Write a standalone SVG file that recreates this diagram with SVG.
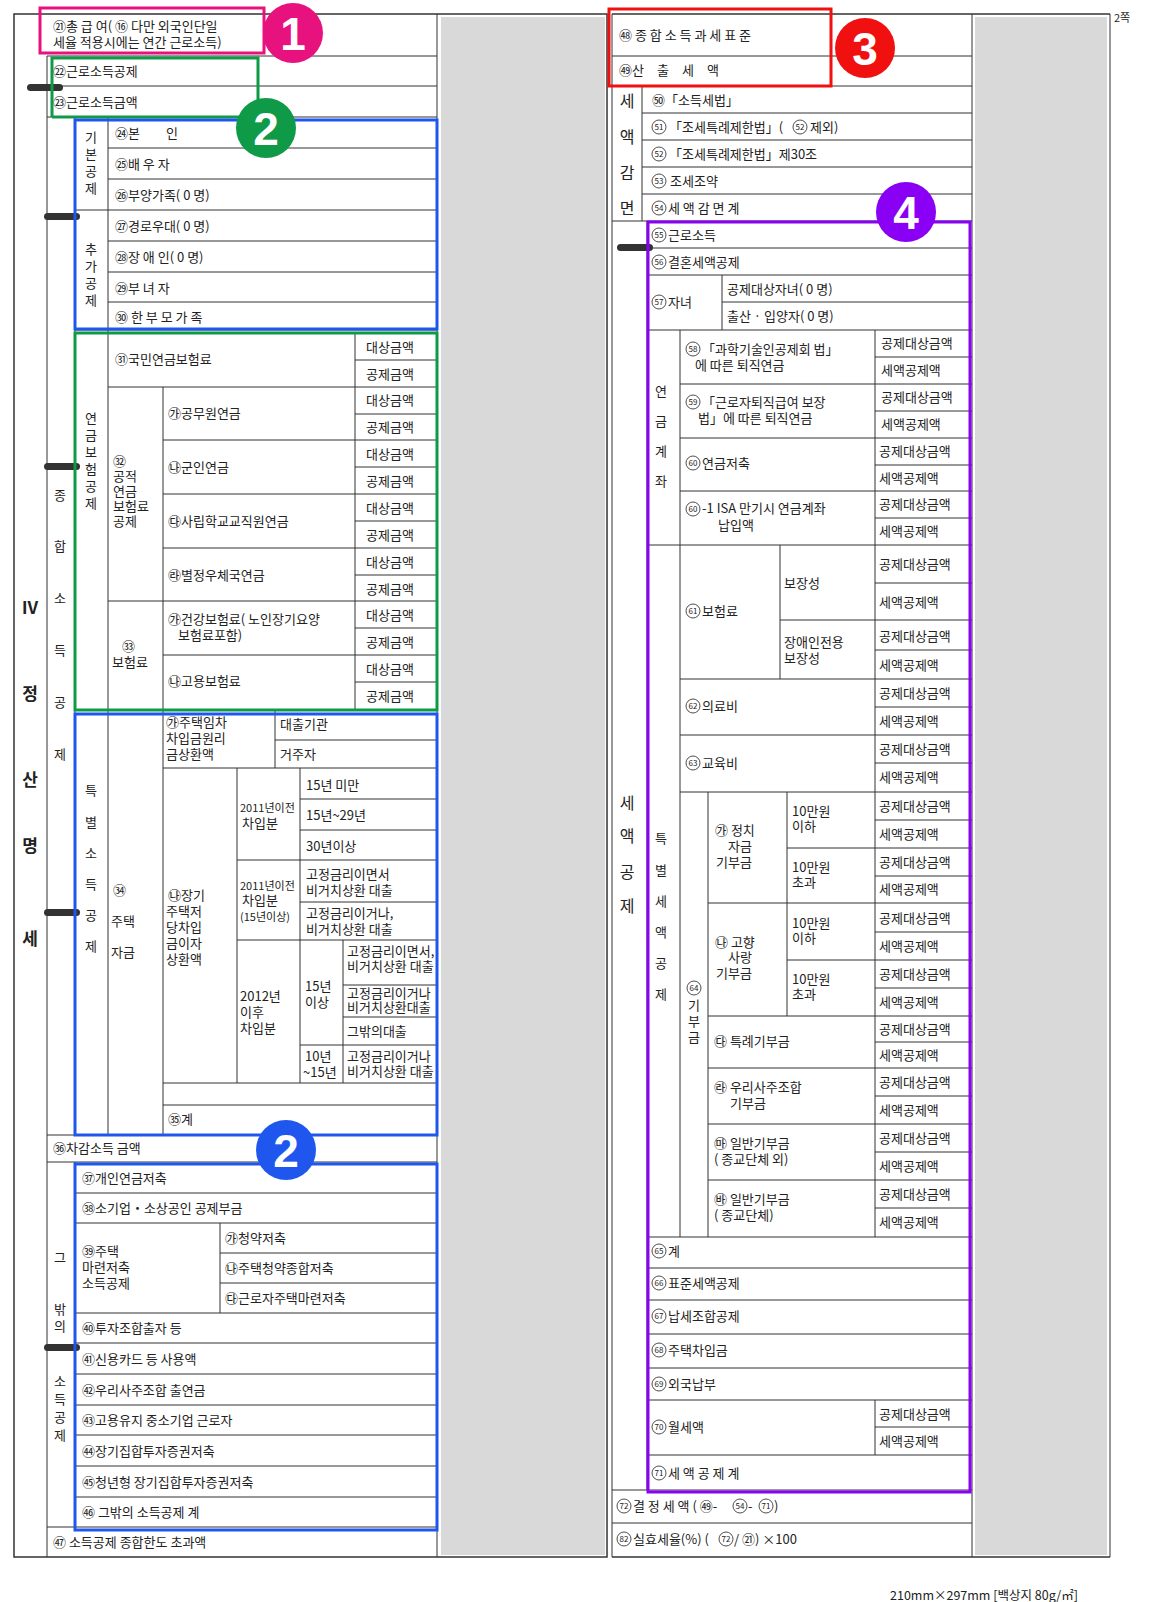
<svg xmlns="http://www.w3.org/2000/svg" width="1151" height="1602" viewBox="0 0 1151 1602">
<style>
text{font-family:"Noto Sans CJK KR","Noto Sans",sans-serif;font-size:13px;fill:#222}
.s{font-size:12.5px}
.xs{font-size:11px}
.b{font-size:17px;font-weight:bold}
.cn{font-size:8px;text-anchor:middle}
.cc{fill:none;stroke:#222;stroke-width:0.8}
.l line{stroke:#333;stroke-width:1}
.g{fill:#d9d9d9}
.fm{fill:#333}
.big{font-family:"Liberation Sans",sans-serif;font-size:46px;font-weight:bold;fill:#fff;text-anchor:middle}
</style>
<rect width="1151" height="1602" fill="#fff"/>
<rect class="g" x="441" y="17" width="164" height="1538"/>
<rect class="g" x="975" y="17" width="132" height="1538"/>
<g class="l" id="grid-left">
<rect x="14" y="14" width="593" height="1543" fill="none" stroke="#333" stroke-width="1.5"/>
<line x1="437" y1="14" x2="437" y2="1557"/>
<line x1="47" y1="56" x2="47" y2="1557"/>
<line x1="47" y1="56" x2="437" y2="56"/><line x1="47" y1="86" x2="437" y2="86"/><line x1="47" y1="117" x2="437" y2="117"/>
<line x1="75" y1="117" x2="75" y2="1135"/><line x1="75" y1="1162" x2="75" y2="1527"/>
<line x1="108" y1="117" x2="108" y2="1135"/>
<line x1="108" y1="148" x2="437" y2="148"/><line x1="108" y1="179" x2="437" y2="179"/><line x1="75" y1="210" x2="437" y2="210"/>
<line x1="108" y1="241" x2="437" y2="241"/><line x1="108" y1="272" x2="437" y2="272"/><line x1="108" y1="302" x2="437" y2="302"/><line x1="75" y1="330" x2="437" y2="330"/>
<line x1="163" y1="387" x2="163" y2="710"/><line x1="355" y1="333" x2="355" y2="710"/>
<line x1="355" y1="360" x2="437" y2="360"/><line x1="108" y1="387" x2="437" y2="387"/><line x1="355" y1="414" x2="437" y2="414"/><line x1="163" y1="440" x2="437" y2="440"/>
<line x1="355" y1="467" x2="437" y2="467"/><line x1="163" y1="494" x2="437" y2="494"/><line x1="355" y1="521" x2="437" y2="521"/><line x1="163" y1="548" x2="437" y2="548"/>
<line x1="355" y1="575" x2="437" y2="575"/><line x1="108" y1="601" x2="437" y2="601"/><line x1="355" y1="628" x2="437" y2="628"/><line x1="163" y1="655" x2="437" y2="655"/>
<line x1="355" y1="682" x2="437" y2="682"/><line x1="75" y1="710" x2="437" y2="710"/>
<line x1="163" y1="710" x2="163" y2="1135"/><line x1="275" y1="710" x2="275" y2="768"/><line x1="275" y1="740" x2="437" y2="740"/><line x1="163" y1="768" x2="437" y2="768"/>
<line x1="237" y1="768" x2="237" y2="1083"/><line x1="300" y1="768" x2="300" y2="1083"/>
<line x1="300" y1="799" x2="437" y2="799"/><line x1="300" y1="830" x2="437" y2="830"/><line x1="237" y1="860" x2="437" y2="860"/><line x1="300" y1="902" x2="437" y2="902"/><line x1="237" y1="940" x2="437" y2="940"/>
<line x1="343" y1="940" x2="343" y2="1083"/><line x1="343" y1="985" x2="437" y2="985"/><line x1="343" y1="1017" x2="437" y2="1017"/><line x1="300" y1="1045" x2="437" y2="1045"/>
<line x1="163" y1="1083" x2="437" y2="1083"/><line x1="163" y1="1105" x2="437" y2="1105"/><line x1="47" y1="1135" x2="437" y2="1135"/><line x1="47" y1="1162" x2="437" y2="1162"/>
<line x1="75" y1="1193" x2="437" y2="1193"/><line x1="75" y1="1223" x2="437" y2="1223"/><line x1="220" y1="1223" x2="220" y2="1313"/><line x1="220" y1="1253" x2="437" y2="1253"/><line x1="220" y1="1283" x2="437" y2="1283"/>
<line x1="75" y1="1313" x2="437" y2="1313"/><line x1="75" y1="1343" x2="437" y2="1343"/><line x1="75" y1="1374" x2="437" y2="1374"/><line x1="75" y1="1405" x2="437" y2="1405"/><line x1="75" y1="1435" x2="437" y2="1435"/>
<line x1="75" y1="1466" x2="437" y2="1466"/><line x1="75" y1="1497" x2="437" y2="1497"/><line x1="47" y1="1527" x2="437" y2="1527"/>
</g>
<g class="l" id="grid-right">
<line x1="612" y1="14" x2="1110" y2="14" style="stroke-width:1.5"/><line x1="612" y1="1557" x2="1110" y2="1557" style="stroke-width:1.5"/>
<line x1="612" y1="14" x2="612" y2="1557"/><line x1="1110" y1="14" x2="1110" y2="1557"/><line x1="972" y1="14" x2="972" y2="1557"/>
<line x1="612" y1="56" x2="972" y2="56"/><line x1="612" y1="86" x2="972" y2="86"/><line x1="642" y1="86" x2="642" y2="221"/>
<line x1="642" y1="113" x2="972" y2="113"/><line x1="642" y1="140" x2="972" y2="140"/><line x1="642" y1="167" x2="972" y2="167"/><line x1="642" y1="194" x2="972" y2="194"/><line x1="612" y1="221" x2="972" y2="221"/>
<line x1="647" y1="221" x2="647" y2="1490"/><line x1="647" y1="248" x2="972" y2="248"/><line x1="647" y1="275" x2="972" y2="275"/>
<line x1="722" y1="275" x2="722" y2="330"/><line x1="722" y1="302" x2="972" y2="302"/><line x1="647" y1="330" x2="972" y2="330"/>
<line x1="680" y1="330" x2="680" y2="1237"/><line x1="875" y1="330" x2="875" y2="1237"/><line x1="875" y1="1400" x2="875" y2="1455"/>
<line x1="875" y1="357" x2="972" y2="357"/><line x1="680" y1="384" x2="972" y2="384"/><line x1="875" y1="411" x2="972" y2="411"/><line x1="680" y1="438" x2="972" y2="438"/>
<line x1="875" y1="465" x2="972" y2="465"/><line x1="680" y1="491" x2="972" y2="491"/><line x1="875" y1="518" x2="972" y2="518"/><line x1="647" y1="545" x2="972" y2="545"/>
<line x1="780" y1="545" x2="780" y2="679"/><line x1="875" y1="583" x2="972" y2="583"/><line x1="780" y1="620" x2="972" y2="620"/><line x1="875" y1="650" x2="972" y2="650"/>
<line x1="680" y1="679" x2="972" y2="679"/><line x1="875" y1="707" x2="972" y2="707"/><line x1="680" y1="735" x2="972" y2="735"/><line x1="875" y1="763" x2="972" y2="763"/><line x1="680" y1="792" x2="972" y2="792"/>
<line x1="708" y1="792" x2="708" y2="1237"/><line x1="787" y1="792" x2="787" y2="1016"/>
<line x1="875" y1="820" x2="972" y2="820"/><line x1="787" y1="848" x2="972" y2="848"/><line x1="875" y1="876" x2="972" y2="876"/><line x1="708" y1="903" x2="972" y2="903"/>
<line x1="875" y1="932" x2="972" y2="932"/><line x1="787" y1="960" x2="972" y2="960"/><line x1="875" y1="988" x2="972" y2="988"/><line x1="708" y1="1016" x2="972" y2="1016"/>
<line x1="875" y1="1042" x2="972" y2="1042"/><line x1="708" y1="1068" x2="972" y2="1068"/><line x1="875" y1="1096" x2="972" y2="1096"/><line x1="708" y1="1124" x2="972" y2="1124"/>
<line x1="875" y1="1152" x2="972" y2="1152"/><line x1="708" y1="1180" x2="972" y2="1180"/><line x1="875" y1="1208" x2="972" y2="1208"/><line x1="647" y1="1237" x2="972" y2="1237"/>
<line x1="647" y1="1268" x2="972" y2="1268"/><line x1="647" y1="1300" x2="972" y2="1300"/><line x1="647" y1="1334" x2="972" y2="1334"/><line x1="647" y1="1368" x2="972" y2="1368"/>
<line x1="647" y1="1400" x2="972" y2="1400"/><line x1="875" y1="1427" x2="972" y2="1427"/><line x1="647" y1="1455" x2="972" y2="1455"/><line x1="612" y1="1490" x2="972" y2="1490"/><line x1="612" y1="1523" x2="972" y2="1523"/>
</g>
<g id="fold-marks">
<rect class="fm" x="27" y="84" width="36" height="7" rx="3.5"/>
<rect class="fm" x="44" y="213" width="36" height="7" rx="3.5"/>
<rect class="fm" x="44" y="463" width="36" height="7" rx="3.5"/>
<rect class="fm" x="44" y="909" width="36" height="7" rx="3.5"/>
<rect class="fm" x="44" y="1344" width="36" height="7" rx="3.5"/>
<rect class="fm" x="617" y="244" width="36" height="7" rx="3.5"/>
</g>
<g id="left-text">
<text x="53" y="31">㉑총 급 여( ⑯ 다만 외국인단일</text><text x="53" y="47">세율 적용시에는 연간 근로소득)</text>
<text x="53" y="76">㉒근로소득공제</text><text x="53" y="107">㉓근로소득금액</text>
<text x="30" y="614" class="b" text-anchor="middle">Ⅳ</text>
<text x="30" y="700" class="b" text-anchor="middle">정</text><text x="30" y="786" class="b" text-anchor="middle">산</text><text x="30" y="852" class="b" text-anchor="middle">명</text><text x="30" y="945" class="b" text-anchor="middle">세</text>
<text x="60" y="500" text-anchor="middle">종</text><text x="60" y="551" text-anchor="middle">합</text><text x="60" y="603" text-anchor="middle">소</text><text x="60" y="655" text-anchor="middle">득</text><text x="60" y="707" text-anchor="middle">공</text><text x="60" y="759" text-anchor="middle">제</text>
<text x="91" y="142" text-anchor="middle">기</text><text x="91" y="159" text-anchor="middle">본</text><text x="91" y="176" text-anchor="middle">공</text><text x="91" y="193" text-anchor="middle">제</text>
<text x="91" y="254" text-anchor="middle">추</text><text x="91" y="271" text-anchor="middle">가</text><text x="91" y="288" text-anchor="middle">공</text><text x="91" y="305" text-anchor="middle">제</text>
<text x="115" y="138">㉔본　　인</text><text x="115" y="169">㉕배 우 자</text><text x="115" y="200">㉖부양가족( 0 명)</text><text x="115" y="231">㉗경로우대( 0 명)</text>
<text x="115" y="262">㉘장 애 인( 0 명)</text><text x="115" y="293">㉙부 녀 자</text><text x="115" y="322">㉚ 한 부 모 가 족</text>
<text x="91" y="423" text-anchor="middle">연</text><text x="91" y="440" text-anchor="middle">금</text><text x="91" y="457" text-anchor="middle">보</text><text x="91" y="474" text-anchor="middle">험</text><text x="91" y="491" text-anchor="middle">공</text><text x="91" y="508" text-anchor="middle">제</text>
<text x="115" y="364">㉛국민연금보험료</text>
<g class="s"><text x="113" y="466">㉜</text><text x="113" y="481">공적</text><text x="113" y="496">연금</text><text x="113" y="511">보험료</text><text x="113" y="526">공제</text></g>
<text x="168" y="418">㉮공무원연금</text><text x="168" y="472">㉯군인연금</text><text x="168" y="526">㉰사립학교교직원연금</text><text x="168" y="580">㉱별정우체국연금</text>
<text x="122" y="651">㉝</text><text x="112" y="667">보험료</text>
<text x="168" y="624">㉮건강보험료( 노인장기요양</text><text x="178" y="640">보험료포함)</text><text x="168" y="686">㉯고용보험료</text>
<g class="s">
<text x="366" y="352">대상금액</text><text x="366" y="379">공제금액</text><text x="366" y="405">대상금액</text><text x="366" y="432">공제금액</text>
<text x="366" y="459">대상금액</text><text x="366" y="486">공제금액</text><text x="366" y="513">대상금액</text><text x="366" y="540">공제금액</text>
<text x="366" y="567">대상금액</text><text x="366" y="594">공제금액</text><text x="366" y="620">대상금액</text><text x="366" y="647">공제금액</text>
<text x="366" y="674">대상금액</text><text x="366" y="701">공제금액</text>
</g>
<text x="91" y="795" text-anchor="middle">특</text><text x="91" y="827" text-anchor="middle">별</text><text x="91" y="858" text-anchor="middle">소</text><text x="91" y="889" text-anchor="middle">득</text><text x="91" y="920" text-anchor="middle">공</text><text x="91" y="951" text-anchor="middle">제</text>
<text x="113" y="895">㉞</text><text x="111" y="926">주택</text><text x="111" y="957">자금</text>
<text x="166" y="727">㉮주택임차</text><text x="166" y="743">차입금원리</text><text x="166" y="759">금상환액</text>
<text x="280" y="729">대출기관</text><text x="280" y="759">거주자</text>
<text x="168" y="900">㉯장기</text><text x="166" y="916">주택저</text><text x="166" y="932">당차입</text><text x="166" y="948">금이자</text><text x="166" y="964">상환액</text>
<text x="240" y="812" class="xs">2011년이전</text><text x="242" y="828">차입분</text>
<text x="306" y="790">15년 미만</text><text x="306" y="820">15년~29년</text><text x="306" y="851">30년이상</text>
<text x="240" y="890" class="xs">2011년이전</text><text x="242" y="905">차입분</text><text x="240" y="921" class="xs">(15년이상)</text>
<g class="s"><text x="306" y="879">고정금리이면서</text><text x="306" y="895">비거치상환 대출</text><text x="306" y="918">고정금리이거나,</text><text x="306" y="934">비거치상환 대출</text></g>
<text x="240" y="1001">2012년</text><text x="240" y="1017">이후</text><text x="240" y="1033">차입분</text>
<text x="305" y="991">15년</text><text x="305" y="1007">이상</text><text x="305" y="1061">10년</text><text x="303" y="1077">~15년</text>
<g class="xs"><text x="347" y="956">고정금리이면서,</text><text x="347" y="971">비거치상환 대출</text><text x="347" y="998">고정금리이거나</text><text x="347" y="1012">비거치상환대출</text>
<text x="347" y="1036">그밖의대출</text><text x="347" y="1061">고정금리이거나</text><text x="347" y="1076">비거치상환 대출</text></g>
<text x="168" y="1124">㉟계</text>
<text x="53" y="1153">㊱차감소득 금액</text>
<text x="60" y="1262" text-anchor="middle">그</text><text x="60" y="1314" text-anchor="middle">밖</text><text x="60" y="1331" text-anchor="middle">의</text>
<text x="60" y="1386" text-anchor="middle">소</text><text x="60" y="1404" text-anchor="middle">득</text><text x="60" y="1422" text-anchor="middle">공</text><text x="60" y="1440" text-anchor="middle">제</text>
<text x="82" y="1183">㊲개인연금저축</text><text x="82" y="1213">㊳소기업・소상공인 공제부금</text>
<text x="82" y="1256">㊴주택</text><text x="82" y="1272">마련저축</text><text x="82" y="1288">소득공제</text>
<text x="225" y="1243">㉮청약저축</text><text x="225" y="1273">㉯주택청약종합저축</text><text x="225" y="1303">㉰근로자주택마련저축</text>
<text x="82" y="1333">㊵투자조합출자 등</text><text x="82" y="1364">㊶신용카드 등 사용액</text><text x="82" y="1395">㊷우리사주조합 출연금</text><text x="82" y="1425">㊸고용유지 중소기업 근로자</text>
<text x="82" y="1456">㊹장기집합투자증권저축</text><text x="82" y="1487">㊺청년형 장기집합투자증권저축</text><text x="82" y="1517">㊻ 그밖의 소득공제 계</text>
<text x="53" y="1547">㊼ 소득공제 종합한도 초과액</text>
</g>
<g id="right-text">
<text x="619" y="40">㊽ 종 합 소 득 과 세 표 준</text><text x="619" y="75">㊾산　출　세　액</text>
<text x="627" y="107" text-anchor="middle" style="font-size:16px">세</text><text x="627" y="143" text-anchor="middle" style="font-size:16px">액</text><text x="627" y="179" text-anchor="middle" style="font-size:16px">감</text><text x="627" y="214" text-anchor="middle" style="font-size:16px">면</text>
<text x="652" y="105">㊿「소득세법」</text>
<circle class="cc" cx="659" cy="127" r="7"/><text class="cn" x="659" y="130">51</text><text x="669" y="132">「조세특례제한법」( </text>
<circle class="cc" cx="800" cy="127" r="7"/><text class="cn" x="800" y="130">52</text><text x="810" y="132">제외)</text>
<circle class="cc" cx="659" cy="154" r="7"/><text class="cn" x="659" y="157">52</text><text x="669" y="159">「조세특례제한법」제30조</text>
<circle class="cc" cx="659" cy="181" r="7"/><text class="cn" x="659" y="184">53</text><text x="670" y="186">조세조약</text>
<circle class="cc" cx="659" cy="208" r="7"/><text class="cn" x="659" y="211">54</text><text x="668" y="213">세 액 감 면 계</text>
<text x="627" y="809" text-anchor="middle" style="font-size:16px">세</text><text x="627" y="842" text-anchor="middle" style="font-size:16px">액</text><text x="627" y="878" text-anchor="middle" style="font-size:16px">공</text><text x="627" y="912" text-anchor="middle" style="font-size:16px">제</text>
<circle class="cc" cx="659" cy="235" r="7"/><text class="cn" x="659" y="238">55</text><text x="668" y="240">근로소득</text>
<circle class="cc" cx="659" cy="262" r="7"/><text class="cn" x="659" y="265">56</text><text x="668" y="267">결혼세액공제</text>
<circle class="cc" cx="659" cy="302" r="7"/><text class="cn" x="659" y="305">57</text><text x="668" y="307">자녀</text>
<text x="727" y="294">공제대상자녀( 0 명)</text><text x="727" y="321">출산 · 입양자( 0 명)</text>
<text x="661" y="396" text-anchor="middle">연</text><text x="661" y="426" text-anchor="middle">금</text><text x="661" y="456" text-anchor="middle">계</text><text x="661" y="486" text-anchor="middle">좌</text>
<circle class="cc" cx="693" cy="349" r="7"/><text class="cn" x="693" y="352">58</text><text x="702" y="354">「과학기술인공제회 법」</text><text x="695" y="370">에 따른 퇴직연금</text>
<circle class="cc" cx="693" cy="402" r="7"/><text class="cn" x="693" y="405">59</text><text x="702" y="407">「근로자퇴직급여 보장</text><text x="698" y="423">법」에 따른 퇴직연금</text>
<circle class="cc" cx="693" cy="463" r="7"/><text class="cn" x="693" y="466">60</text><text x="702" y="468">연금저축</text>
<circle class="cc" cx="693" cy="509" r="7"/><text class="cn" x="693" y="512">60</text><text x="702" y="513">-1 ISA 만기시 연금계좌</text><text x="718" y="530">납입액</text>
<text x="661" y="843" text-anchor="middle">특</text><text x="661" y="875" text-anchor="middle">별</text><text x="661" y="906" text-anchor="middle">세</text><text x="661" y="937" text-anchor="middle">액</text><text x="661" y="968" text-anchor="middle">공</text><text x="661" y="999" text-anchor="middle">제</text>
<circle class="cc" cx="693" cy="611" r="7"/><text class="cn" x="693" y="614">61</text><text x="702" y="616">보험료</text>
<text x="784" y="588">보장성</text><text x="784" y="647">장애인전용</text><text x="784" y="663">보장성</text>
<circle class="cc" cx="693" cy="706" r="7"/><text class="cn" x="693" y="709">62</text><text x="702" y="711">의료비</text>
<circle class="cc" cx="693" cy="763" r="7"/><text class="cn" x="693" y="766">63</text><text x="702" y="768">교육비</text>
<circle class="cc" cx="694" cy="988" r="7"/><text class="cn" x="694" y="991">64</text>
<text x="694" y="1010" text-anchor="middle">기</text><text x="694" y="1026" text-anchor="middle">부</text><text x="694" y="1042" text-anchor="middle">금</text>
<text x="715" y="835">㉮ 정치</text><text x="728" y="851">자금</text><text x="716" y="867">기부금</text>
<text x="792" y="816">10만원</text><text x="792" y="831">이하</text><text x="792" y="872">10만원</text><text x="792" y="887">초과</text>
<text x="715" y="947">㉯ 고향</text><text x="728" y="962">사랑</text><text x="716" y="978">기부금</text>
<text x="792" y="928">10만원</text><text x="792" y="943">이하</text><text x="792" y="984">10만원</text><text x="792" y="999">초과</text>
<text x="714" y="1046">㉰ 특례기부금</text>
<text x="714" y="1092">㉱ 우리사주조합</text><text x="730" y="1108">기부금</text>
<text x="714" y="1148">㉲ 일반기부금</text><text x="714" y="1164">( 종교단체 외)</text>
<text x="714" y="1204">㉳ 일반기부금</text><text x="714" y="1220">( 종교단체)</text>
<g class="s">
<text x="881" y="348">공제대상금액</text><text x="881" y="375">세액공제액</text><text x="881" y="402">공제대상금액</text><text x="881" y="429">세액공제액</text>
<text x="879" y="456">공제대상금액</text><text x="879" y="483">세액공제액</text><text x="879" y="509">공제대상금액</text><text x="879" y="536">세액공제액</text>
<text x="879" y="569">공제대상금액</text><text x="879" y="607">세액공제액</text><text x="879" y="641">공제대상금액</text><text x="879" y="670">세액공제액</text>
<text x="879" y="698">공제대상금액</text><text x="879" y="726">세액공제액</text><text x="879" y="754">공제대상금액</text><text x="879" y="782">세액공제액</text>
<text x="879" y="811">공제대상금액</text><text x="879" y="839">세액공제액</text><text x="879" y="867">공제대상금액</text><text x="879" y="894">세액공제액</text>
<text x="879" y="923">공제대상금액</text><text x="879" y="951">세액공제액</text><text x="879" y="979">공제대상금액</text><text x="879" y="1007">세액공제액</text>
<text x="879" y="1034">공제대상금액</text><text x="879" y="1060">세액공제액</text><text x="879" y="1087">공제대상금액</text><text x="879" y="1115">세액공제액</text>
<text x="879" y="1143">공제대상금액</text><text x="879" y="1171">세액공제액</text><text x="879" y="1199">공제대상금액</text><text x="879" y="1227">세액공제액</text>
<text x="879" y="1419">공제대상금액</text><text x="879" y="1446">세액공제액</text>
</g>
<circle class="cc" cx="659" cy="1251" r="7"/><text class="cn" x="659" y="1254">65</text><text x="668" y="1256">계</text>
<circle class="cc" cx="659" cy="1283" r="7"/><text class="cn" x="659" y="1286">66</text><text x="668" y="1288">표준세액공제</text>
<circle class="cc" cx="659" cy="1316" r="7"/><text class="cn" x="659" y="1319">67</text><text x="668" y="1321">납세조합공제</text>
<circle class="cc" cx="659" cy="1350" r="7"/><text class="cn" x="659" y="1353">68</text><text x="668" y="1355">주택차입금</text>
<circle class="cc" cx="659" cy="1384" r="7"/><text class="cn" x="659" y="1387">69</text><text x="668" y="1389">외국납부</text>
<circle class="cc" cx="659" cy="1427" r="7"/><text class="cn" x="659" y="1430">70</text><text x="668" y="1432">월세액</text>
<circle class="cc" cx="659" cy="1473" r="7"/><text class="cn" x="659" y="1476">71</text><text x="668" y="1478">세 액 공 제 계</text>
<circle class="cc" cx="624" cy="1506" r="7"/><text class="cn" x="624" y="1509">72</text><text x="633" y="1511">결 정 세 액 ( ㊾- </text>
<circle class="cc" cx="740" cy="1506" r="7"/><text class="cn" x="740" y="1509">54</text><text x="748" y="1511">- </text>
<circle class="cc" cx="766" cy="1506" r="7"/><text class="cn" x="766" y="1509">71</text><text x="774" y="1511">)</text>
<circle class="cc" cx="624" cy="1539" r="7"/><text class="cn" x="624" y="1542">82</text><text x="633" y="1544">실효세율(%) ( </text>
<circle class="cc" cx="726" cy="1539" r="7"/><text class="cn" x="726" y="1542">72</text><text x="734" y="1544">/ ㉑) ×100</text>
<text x="1114" y="22" class="xs">2쪽</text>
<text x="890" y="1600" class="s">210mm×297mm [백상지 80g/㎡]</text>
</g>
<g id="highlights" fill="none" stroke-width="3">
<rect x="40" y="8" width="224" height="45" stroke="#e8127f"/>
<path d="M52,117 V58 H258 V117 H52" stroke="#0f9a48"/>
<rect x="75" y="120" width="362" height="209" stroke="#1f57ee"/>
<rect x="75" y="333" width="362" height="377" stroke="#0f9a48"/>
<rect x="75" y="714" width="362" height="421" stroke="#1f57ee"/>
<rect x="75" y="1164" width="362" height="366" stroke="#1f57ee"/>
<rect x="609" y="9" width="222" height="77" stroke="#f01010"/>
<rect x="648" y="222" width="322" height="1270" stroke="#8a00f5"/>
</g>
<g id="badges">
<circle cx="293" cy="33" r="30" fill="#e8127f"/><text class="big" x="293" y="50">1</text>
<circle cx="266" cy="128" r="30" fill="#0f9a48"/><text class="big" x="266" y="145">2</text>
<circle cx="286" cy="1150" r="30" fill="#1f57ee"/><text class="big" x="286" y="1167">2</text>
<circle cx="865" cy="48" r="30" fill="#f01010"/><text class="big" x="865" y="65">3</text>
<circle cx="906" cy="212" r="30" fill="#8a00f5"/><text class="big" x="906" y="229">4</text>
</g>
</svg>
